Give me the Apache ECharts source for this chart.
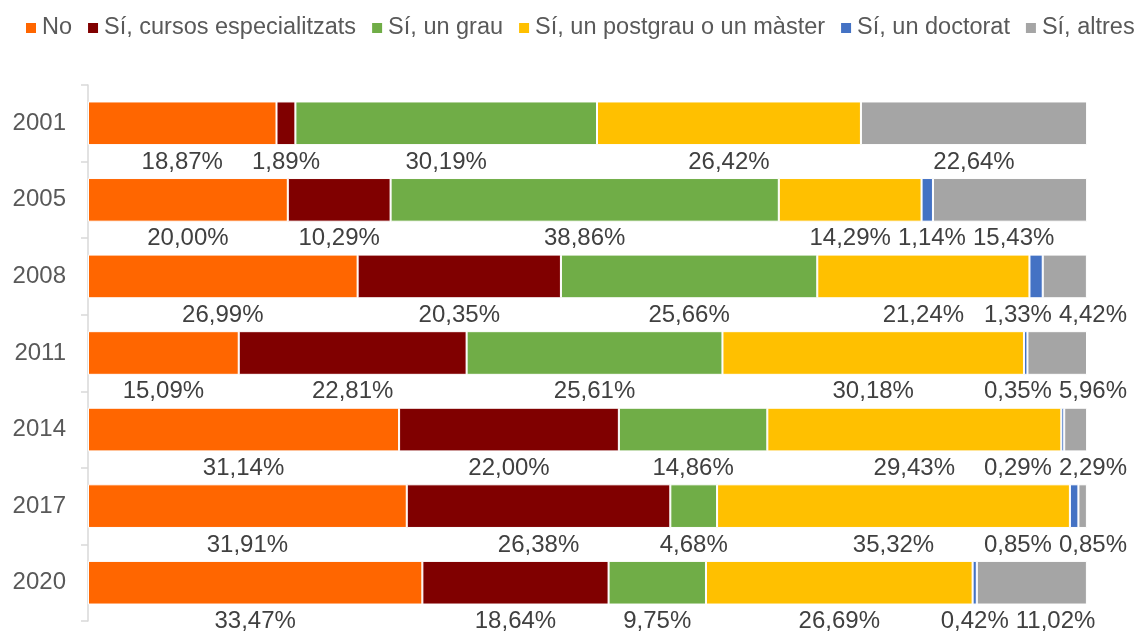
<!DOCTYPE html>
<html>
<head>
<meta charset="utf-8">
<script src="https://cdn.jsdelivr.net/npm/echarts@6/dist/echarts.min.js"></script>
<style>
  html, body { margin: 0; padding: 0; background: #fff; }
  #chart { width: 1138px; height: 631px; }
</style>
</head>
<body>
<div id="chart"></div>
<script>
const categories = ['2001', '2005', '2008', '2011', '2014', '2017', '2020']
const seriesNames = ['No', 'Sí, cursos especialitzats', 'Sí, un grau', 'Sí, un postgrau o un màster', 'Sí, un doctorat', 'Sí, altres']
const noValues = [18.87, 20.00, 26.99, 15.09, 31.14, 31.91, 33.47]
const cursosValues = [1.89, 10.29, 20.35, 22.81, 22.00, 26.38, 18.64]
const grauValues = [30.19, 38.86, 25.66, 25.61, 14.86, 4.68, 9.75]
const postgrauValues = [26.42, 14.29, 21.24, 30.18, 29.43, 35.32, 26.69]
const doctoratValues = [null, 1.14, 1.33, 0.35, 0.29, 0.85, 0.42]
const altresValues = [22.64, 15.43, 4.42, 5.96, 2.29, 0.85, 11.02]

const allValues = [noValues, cursosValues, grauValues, postgrauValues, doctoratValues, altresValues]
const colors = ['#FF6600', '#800000', '#70AD47', '#FFC000', '#4472C4', '#A5A5A5']

const fmt = v => v.toFixed(2).replace('.', ',') + '%'

const chart = echarts.init(document.getElementById('chart'))

// medir textos para separar etiquetas que se solapan en la misma fila
const measureCtx = document.createElement('canvas').getContext('2d')
measureCtx.font = '24px "Liberation Sans"'
const labelGap = 7
const rightBound = 1127
const rowCache = {}

const rowLabels = (row) => {
  if (rowCache[row]) return rowCache[row]
  let cum = 0
  const items = allValues.map(vals => {
    const v = vals[row]
    if (v == null) return null
    const c = chart.convertToPixel({ xAxisIndex: 0 }, cum + v / 2)
    const w = measureCtx.measureText(fmt(v)).width
    cum += v
    return { x: c - w / 2, w: w }
  })
  const list = items.filter(Boolean)
  for (let i = 1; i < list.length; i++) {
    const minX = list[i - 1].x + list[i - 1].w + labelGap
    if (list[i].x < minX) list[i].x = minX
  }
  let bound = rightBound
  for (let i = list.length - 1; i >= 0; i--) {
    if (list[i].x + list[i].w > bound) list[i].x = bound - list[i].w
    bound = list[i].x - labelGap
  }
  rowCache[row] = items
  return items
}

const option = {
  textStyle: { fontFamily: 'Liberation Sans, Arial, sans-serif' },
  animation: false,
  legend: {
    left: 24,
    top: 16,
    width: 1125,
    padding: 0,
    itemWidth: 12,
    itemHeight: 12,
    itemGap: 14,
    icon: 'rect',
    textStyle: { fontSize: 23.5, color: '#595959' },
    data: seriesNames
  },
  grid: {
    left: 88,
    right: 51,
    top: 85,
    bottom: 10,
    containLabel: false
  },
  xAxis: {
    type: 'value',
    min: 0,
    max: 100,
    show: false
  },
  yAxis: {
    type: 'category',
    inverse: true,
    data: categories,
    axisLine: { show: true, lineStyle: { color: '#D9D9D9', width: 1.5 } },
    axisTick: { show: true, length: 7, lineStyle: { color: '#D9D9D9', width: 1.5 } },
    axisLabel: { fontSize: 24, color: '#595959', margin: 22 },
    splitLine: { show: false }
  },
  series: allValues.map((vals, i) => ({
    name: seriesNames[i],
    type: 'bar',
    stack: 'total',
    data: vals,
    barCategoryGap: '43%',
    itemStyle: { color: colors[i], borderColor: '#fff', borderWidth: 1 },
    label: {
      show: true,
      position: 'bottom',
      distance: 5,
      fontSize: 24,
      color: '#404040',
      formatter: p => fmt(p.value)
    },
    labelLayout: (p) => {
      const it = rowLabels(p.dataIndex)[p.seriesIndex]
      if (!it) return {}
      return { dx: (it.x + it.w / 2) - (p.labelRect.x + p.labelRect.width / 2) }
    }
  }))
}

chart.setOption(option)
</script>
</body>
</html>
